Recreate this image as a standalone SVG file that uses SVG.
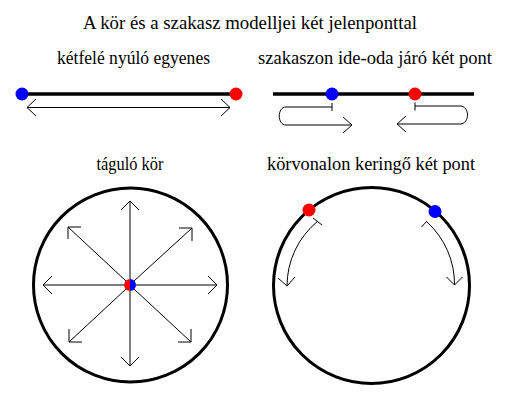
<svg xmlns="http://www.w3.org/2000/svg" width="510" height="400" viewBox="0 0 510 400">
<style>
.lbl{font-size:18px;fill:#000;text-anchor:middle}
.thick{stroke:#000;stroke-width:3.5;fill:none}
.circ{stroke:#000;stroke-width:3;fill:none}
.thin{stroke:#000;stroke-width:1;fill:none}
.red{fill:#ff0000}
.blue{fill:#0000ff}
</style>
<rect width="510" height="400" fill="#fff"/>
<g id="labels" font-family="'Liberation Serif', 'DejaVu Serif', serif">
<text class="lbl" font-family="Liberation Serif" x="250" y="29" textLength="334" lengthAdjust="spacingAndGlyphs">A kör és a szakasz modelljei két jelenponttal</text>
<text class="lbl" font-family="Liberation Serif" x="133.5" y="64" textLength="153" lengthAdjust="spacingAndGlyphs">kétfelé nyúló egyenes</text>
<text class="lbl" font-family="Liberation Serif" x="375" y="64" textLength="234" lengthAdjust="spacingAndGlyphs">szakaszon ide-oda járó két pont</text>
<text class="lbl" font-family="Liberation Serif" x="130" y="170" textLength="67" lengthAdjust="spacingAndGlyphs">táguló kör</text>
<text class="lbl" font-family="Liberation Serif" x="371" y="170" textLength="208" lengthAdjust="spacingAndGlyphs">körvonalon keringő két pont</text>
</g>
<g id="line-model">
<line class="thick" x1="22" y1="94" x2="236" y2="94"/>
<circle class="blue" cx="22" cy="94" r="6.5"/>
<circle class="red" cx="236" cy="94" r="6.5"/>
</g>
<g id="segment-model">
<line class="thick" x1="273" y1="94" x2="474" y2="94"/>
<circle class="blue" cx="332" cy="94" r="6.5"/>
<circle class="red" cx="415" cy="94" r="6.5"/>
</g>
<g id="expanding-circle">
<circle class="circ" cx="130.5" cy="285" r="97"/>
<path fill="#ff0000" d="M130,279 A6,6 0 0 0 130,291 Z"/>
<path fill="#0000ff" d="M130,279 A6,6 0 0 1 130,291 Z"/>
</g>
<g id="orbit-circle">
<circle class="circ" cx="371.5" cy="285.5" r="98"/>
<circle class="red" cx="309" cy="210" r="6.5"/>
<circle class="blue" cx="435" cy="211.5" r="6.5"/>
</g>
<g id="connectors" class="thin">
<path d="M27,107.5 H230 M36,99 L27,107.5 L36,116 M221,99 L230,107.5 L221,116"/>
<path d="M332,103 V111 M332,107 H286 C277,107 277,125 286,125 H352 M343,117 L352,125 L343,133"/>
<path d="M415,102.5 V110.5 M415,106 H460 C470,106 470,124 460,124 H397 M406,116 L397,124 L406,132"/>
<path d="M130,279 V201 M121,210 L130,201 L139,210"/>
<path d="M130,291 V366 M121,357 L130,366 L139,357"/>
<path d="M124,285 H43 M52,276 L43,285 L52,294"/>
<path d="M136,285 H217 M208,276 L217,285 L208,294"/>
<path d="M126,281 L68,227 M81,227 H68 V239"/>
<path d="M134,281 L192,228 M179,228 H192 V241"/>
<path d="M126,289 L69,342 M69,329 V342 H82"/>
<path d="M134,289 L191,342 M191,329 V342 H178"/>
<path d="M313,218 L322,225 M318,221 A84,84 0 0 0 287,286 M278,278 L287,286 L295,277"/>
<path d="M421.5,227 L427,221 M427,222 A84,84 0 0 1 454.5,285 M446.5,277 L454.5,285 L462.5,277"/>
</g>
</svg>
